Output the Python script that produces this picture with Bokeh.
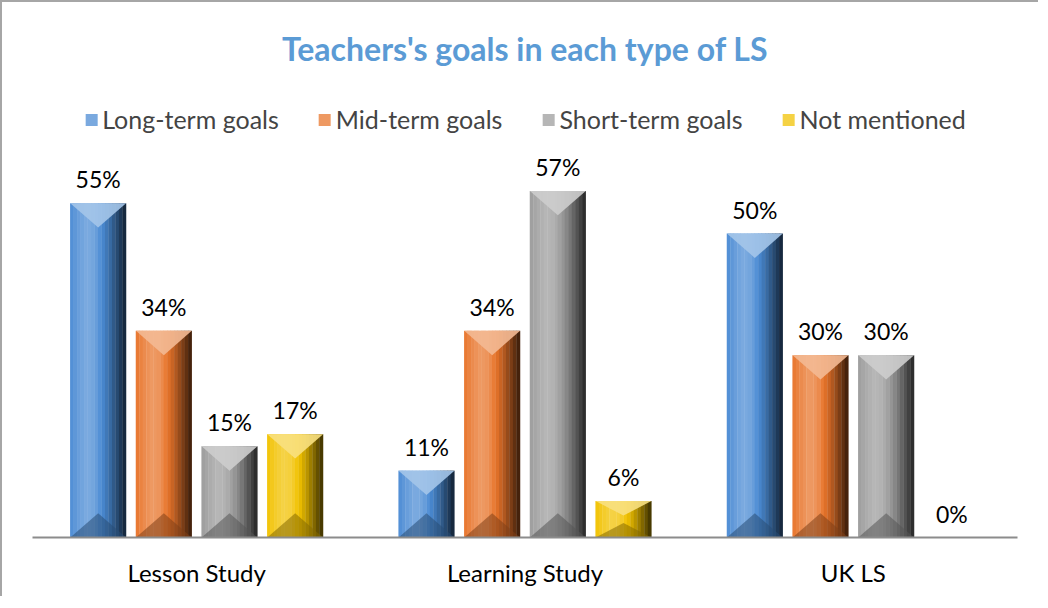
import numpy as np
from bokeh.plotting import figure
from bokeh.models import Range1d, FixedTicker, Legend, LegendItem, ColumnDataSource
from bokeh.embed import file_html
from bokeh.resources import INLINE
from bokeh.core.properties import value

categories = ["Lesson Study", "Learning Study", "UK LS"]
series = ["Long-term goals", "Mid-term goals", "Short-term goals", "Not mentioned"]
long_term = [55, 11, 50]
mid_term = [34, 34, 30]
short_term = [15, 57, 30]
not_mentioned = [17, 6, 0]
all_values = [long_term, mid_term, short_term, not_mentioned]
base_colors = ["#4a8bd4", "#e8742a", "#9c9c9c", "#f2c200"]

FONT = "Lato"
Y_END = 76.5


def mix(hexc, t):
    c = np.array([int(hexc[i:i + 2], 16) for i in (1, 3, 5)], dtype=float)
    if t >= 0:
        c = c + (255 - c) * t
    else:
        c = c * (1 + t)
    c = np.clip(c, 0, 255).astype(int)
    return "#%02x%02x%02x" % tuple(c)


p = figure(width=1038, height=596,
           x_range=Range1d(0, 3), y_range=Range1d(0, Y_END),
           output_backend="svg", toolbar_location=None,
           min_border_left=30, min_border_right=23, min_border_bottom=61,
           min_border_top=70,
           styles={"border-left": "2px solid #a6a6a6", "border-top": "2px solid #a6a6a6"})

p.title.text = "Teachers's goals in each type of LS"
p.title.text_font = FONT
p.title.text_font_size = "32px"
p.title.text_font_style = "bold"
p.title.text_color = "#5b9bd5"
p.title.align = "center"

bar_w = 0.17
step = 0.2
n_strips = 16
key_profile = [0.05, 0.18, 0.28, 0.22, 0.0, -0.2, -0.45, -0.7]
profile = np.interp(np.linspace(0, 7, n_strips), np.arange(8), key_profile)

legend_items = []
for j, (name, vals, col) in enumerate(zip(series, all_values, base_colors)):
    centers = [i + 0.5 + (j - 1.5) * step for i in range(len(categories))]
    tops = list(vals)
    legend_r = None
    for k in range(n_strips):
        xs = [c - bar_w / 2 + (k + 0.5) * bar_w / n_strips for c in centers]
        sc = mix(col, profile[k])
        r = p.vbar(x=xs, top=tops, bottom=0, width=bar_w / n_strips * 1.1,
                   fill_color=sc, line_color=None)
        if k == 4:
            legend_r = r
    # top bevel (light V) and bottom bevel (dark ^)
    txs, tys, bxs, bys = [], [], [], []
    for c, v in zip(centers, tops):
        if v <= 0:
            continue
        d = min(4.0, v * 0.4)
        txs.append([c - bar_w / 2, c + bar_w / 2, c])
        tys.append([v, v, v - d])
        bxs.append([c - bar_w / 2, c + bar_w / 2, c])
        bys.append([0, 0, d])
    p.patches(txs, tys, fill_color=mix(col, 0.5), fill_alpha=0.9, line_color=None)
    p.patches(bxs, bys, fill_color=mix(col, -0.45), fill_alpha=0.55, line_color=None)
    lsrc = ColumnDataSource(dict(x=centers, y=tops, t=[f"{v}%" for v in vals]))
    p.text(x="x", y="y", text="t", source=lsrc, text_align="center",
           text_baseline="middle", y_offset=-24, text_font=value(FONT),
           text_font_size="23px", text_color="#000000")
    legend_items.append(LegendItem(label=name, renderers=[legend_r]))

legend = Legend(items=legend_items, orientation="horizontal", location="top_center",
                border_line_alpha=0, background_fill_alpha=0,
                label_text_font=FONT, label_text_font_size="25px",
                glyph_width=15, glyph_height=15, label_standoff=4, spacing=38,
                padding=0, margin=32)
p.add_layout(legend)

p.xaxis.ticker = FixedTicker(ticks=[i + 0.5 for i in range(len(categories))])
p.xaxis.major_label_overrides = {i + 0.5: c for i, c in enumerate(categories)}
p.xaxis.axis_line_color = "#8c8c8c"
p.xaxis.axis_line_width = 2
p.xaxis.major_tick_line_color = None
p.xaxis.minor_tick_line_color = None
p.xaxis.major_tick_out = 0
p.xaxis.major_tick_in = 0
p.xaxis.major_label_standoff = 20
p.xaxis.major_label_text_font = FONT
p.xaxis.major_label_text_font_size = "24px"
p.xaxis.major_label_text_color = "#000000"
p.yaxis.visible = False
p.xgrid.visible = False
p.ygrid.visible = False
p.outline_line_color = None

open("out.html", "w").write(file_html(p, INLINE))
